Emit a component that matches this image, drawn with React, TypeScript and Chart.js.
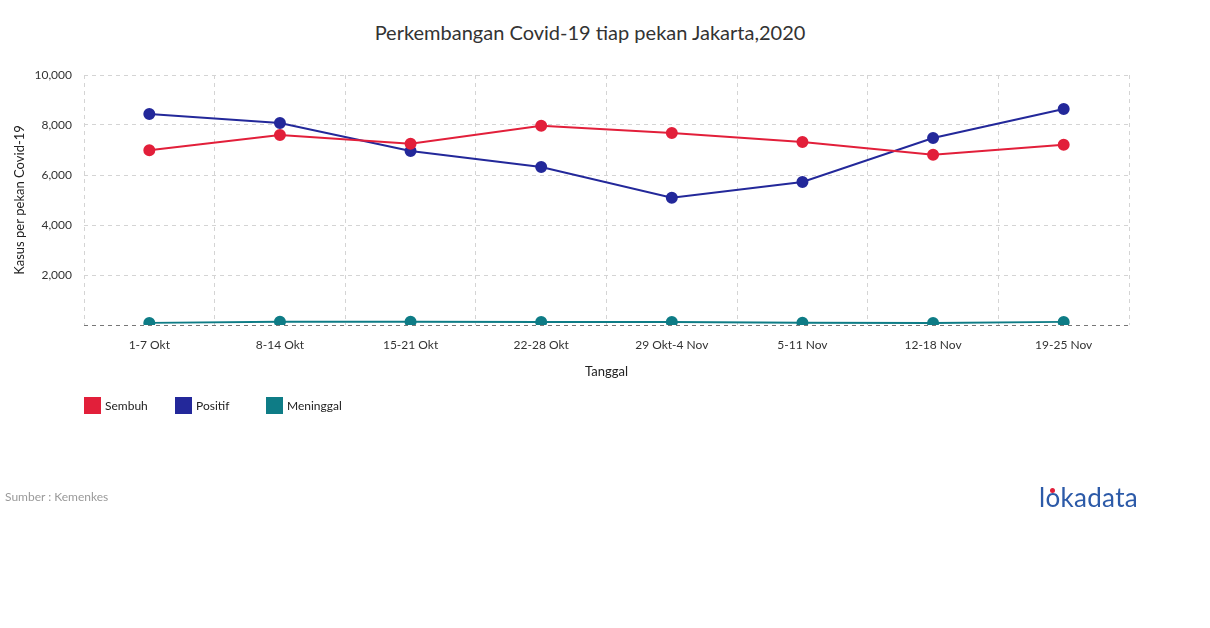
import React, { useEffect, useRef } from "react";
import { Chart, registerables } from "chart.js";

Chart.register(...registerables);

const categories = ["1-7 Okt", "8-14 Okt", "15-21 Okt", "22-28 Okt", "29 Okt-4 Nov", "5-11 Nov", "12-18 Nov", "19-25 Nov"];
const sembuh = [6990, 7600, 7250, 7970, 7680, 7320, 6810, 7210];
const positif = [8440, 8080, 6960, 6320, 5090, 5720, 7480, 8640];
const meninggal = [85, 130, 130, 125, 120, 95, 80, 125];

const seriesNames = ["Sembuh", "Positif", "Meninggal"];
const seriesColors = ["#E21F3A", "#23289A", "#0E7C86"];

const FONT = "Lato, 'Open Sans', sans-serif";

export default function App() {
  const canvasRef = useRef<HTMLCanvasElement | null>(null);

  useEffect(() => {
    const canvas = canvasRef.current;
    if (!canvas) return;
    const seriesData = [sembuh, positif, meninggal];
    const chart = new Chart(canvas, {
      type: "line",
      data: {
        labels: categories,
        datasets: seriesData.map((d, i) => ({
          label: seriesNames[i],
          data: d,
          borderColor: seriesColors[i],
          backgroundColor: seriesColors[i],
          pointBackgroundColor: seriesColors[i],
          pointBorderColor: seriesColors[i],
          borderWidth: 2,
          pointRadius: 5,
          tension: 0,
        })),
      },
      options: {
        responsive: false,
        animation: false,
        layout: { padding: { top: 75, right: 81, bottom: 244, left: 0 } },
        plugins: {
          legend: { display: false },
          title: { display: false },
          tooltip: { enabled: false },
        },
        scales: {
          x: {
            offset: true,
            grid: {
              offset: true,
              color: "#d4d4d4",
              drawTicks: false,
            },
            border: { display: false, dash: [4, 4] },
            ticks: {
              padding: 13,
              color: "#333",
              font: { family: FONT, size: 12 },
              maxRotation: 0,
            },
            title: {
              display: true,
              text: "Tanggal",
              color: "#222",
              font: { family: FONT, size: 13 },
              padding: { top: 4, bottom: 4 },
            },
            afterFit: (scale: any) => {
              scale.height = 59;
            },
          },
          y: {
            min: 0,
            max: 10000,
            grid: {
              color: (ctx: any) => (ctx.tick && ctx.tick.value === 0 ? "#777" : "#d4d4d4"),
              drawTicks: false,
            },
            border: { display: false, dash: [4, 4] },
            ticks: {
              stepSize: 2000,
              padding: 12,
              color: "#333",
              font: { family: FONT, size: 12 },
              callback: (v: any) => (v === 0 ? "" : Number(v).toLocaleString("en-US")),
            },
            title: {
              display: true,
              text: "Kasus per pekan Covid-19",
              color: "#222",
              font: { family: FONT, size: 13 },
              padding: { top: 12, bottom: 4 },
            },
            afterFit: (scale: any) => {
              scale.width = 84;
            },
          },
        },
      },
    });
    (chart.options.scales as any).x.grid.borderDash = [4, 4];
    chart.update();
    return () => chart.destroy();
  }, []);

  return (
    <div style={{ position: "absolute", left: 0, top: 0, width: 1210, height: 628, background: "#fff", fontFamily: FONT }}>
      <div
        style={{
          position: "absolute",
          left: 290,
          width: 600,
          top: 20,
          textAlign: "center",
          fontSize: 20,
          color: "#333",
        }}
      >
        Perkembangan Covid-19 tiap pekan Jakarta,2020
      </div>
      <canvas ref={canvasRef} width={1210} height={628} style={{ position: "absolute", left: 0, top: 0, width: 1210, height: 628 }} />
      {seriesNames.map((n, i) => (
        <div key={n} style={{ position: "absolute", left: 84 + i * 91, top: 397, display: "flex", alignItems: "center", fontSize: 12, color: "#222" }}>
          <span style={{ display: "inline-block", width: 17, height: 17, background: seriesColors[i], marginRight: 4 }} />
          <span>{n}</span>
        </div>
      ))}
      <div style={{ position: "absolute", left: 5, top: 489, fontSize: 12, color: "#9a9a9a" }}>Sumber : Kemenkes</div>
      <div style={{ position: "absolute", left: 1039, top: 481, fontSize: 26, color: "#2C5AA8", letterSpacing: 0.3 }}>
        l<span style={{ color: "#2C5AA8", position: "relative" }}>o<span style={{ position: "absolute", left: 5, top: 7, width: 5, height: 5, background: "#E21F3A", borderRadius: 3 }} /></span>kadata
      </div>
    </div>
  );
}
